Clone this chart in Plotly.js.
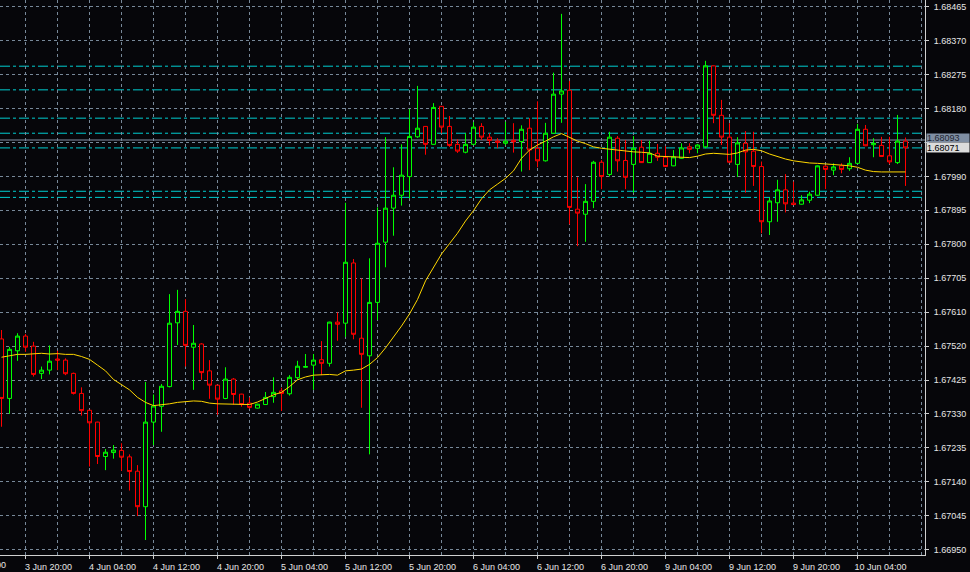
<!DOCTYPE html>
<html>
<head>
<meta charset="utf-8">
<script src="https://cdn.plot.ly/plotly-3.0.1.min.js"></script>
<style>
  html, body { margin: 0; padding: 0; background: #06060a; }
  #chart { width: 970px; height: 572px; }
</style>
</head>
<body>
<div id="chart"></div>
<script>
// ---- Data: hourly candles (3 Jun 17:00 .. 10 Jun 10:00) ----
const open = [
1.67538,1.67372,1.67505,1.67546,1.67518,1.67442,1.67451,1.67482,1.67479,1.67442,
1.67386,1.67339,1.67306,1.67210,1.67221,1.67227,1.67209,1.67169,1.67070,1.67306,
1.67350,1.67405,1.67583,1.67615,1.67515,1.67524,1.67449,1.67409,1.67372,1.67426,
1.67384,1.67359,1.67345,1.67355,1.67377,1.67393,1.67385,1.67430,1.67459,1.67465,
1.67480,1.67470,1.67585,1.67582,1.67750,1.67540,1.67491,1.67640,1.67808,1.67903,
1.67939,1.67991,1.68102,1.68131,1.68081,1.68187,1.68131,1.68081,1.68059,1.68081,
1.68131,1.68101,1.68090,1.68084,1.68092,1.68089,1.68126,1.68070,1.68035,1.68112,
1.68221,1.68232,1.67900,1.67886,1.67922,1.68031,1.67997,1.68098,1.68036,1.68025,
1.68073,1.68030,1.68056,1.68045,1.68021,1.68042,1.68074,1.68070,1.68074,1.68300,
1.68162,1.68101,1.68025,1.68084,1.68062,1.68019,1.67865,1.67918,1.67954,1.67917,
1.67914,1.67925,1.67939,1.68020,1.68009,1.68021,1.68013,1.68028,1.68123,1.68080,
1.68078,1.68049,1.68030,1.68090];
const high = [
1.67563,1.67516,1.67554,1.67552,1.67530,1.67461,1.67520,1.67505,1.67484,1.67444,
1.67403,1.67340,1.67307,1.67231,1.67242,1.67247,1.67216,1.67186,1.67418,1.67383,
1.67412,1.67663,1.67675,1.67649,1.67577,1.67526,1.67479,1.67410,1.67459,1.67429,
1.67385,1.67375,1.67357,1.67390,1.67431,1.67402,1.67437,1.67477,1.67496,1.67496,
1.67532,1.67586,1.67612,1.67918,1.67761,1.67707,1.67763,1.67905,1.68101,1.68017,
1.68081,1.68179,1.68244,1.68132,1.68196,1.68188,1.68160,1.68095,1.68112,1.68143,
1.68140,1.68112,1.68098,1.68144,1.68140,1.68134,1.68154,1.68201,1.68141,1.68281,
1.68445,1.68258,1.67989,1.67970,1.68035,1.68037,1.68116,1.68104,1.68093,1.68104,
1.68093,1.68091,1.68082,1.68076,1.68065,1.68084,1.68084,1.68082,1.68314,1.68301,
1.68205,1.68140,1.68101,1.68118,1.68116,1.68033,1.67932,1.67982,1.67998,1.67977,
1.67939,1.67949,1.68022,1.68023,1.68028,1.68028,1.68045,1.68138,1.68135,1.68098,
1.68102,1.68102,1.68163,1.68100];
const low = [
1.67293,1.67329,1.67477,1.67502,1.67433,1.67426,1.67439,1.67451,1.67437,1.67383,
1.67324,1.67182,1.67189,1.67172,1.67204,1.67170,1.67115,1.67044,1.66977,1.67242,
1.67279,1.67403,1.67521,1.67461,1.67396,1.67424,1.67371,1.67326,1.67370,1.67355,
1.67349,1.67343,1.67344,1.67355,1.67360,1.67337,1.67380,1.67424,1.67458,1.67396,
1.67437,1.67461,1.67533,1.67544,1.67537,1.67346,1.67216,1.67591,1.67738,1.67826,
1.67910,1.67930,1.68099,1.68052,1.68080,1.68112,1.68074,1.68057,1.68056,1.68080,
1.68093,1.68078,1.68070,1.68078,1.68058,1.68005,1.68009,1.68017,1.68033,1.68110,
1.68141,1.67858,1.67797,1.67809,1.67903,1.67956,1.67991,1.68005,1.67956,1.67946,
1.68029,1.68029,1.68035,1.68018,1.68020,1.68041,1.68056,1.68056,1.68070,1.68140,
1.68079,1.68030,1.67990,1.67946,1.67965,1.67833,1.67828,1.67865,1.67891,1.67912,
1.67913,1.67917,1.67937,1.67956,1.67995,1.68000,1.68007,1.68027,1.68076,1.68045,
1.68046,1.68026,1.68026,1.67965];
const close = [
1.67372,1.67509,1.67546,1.67515,1.67439,1.67451,1.67476,1.67479,1.67441,1.67386,
1.67338,1.67304,1.67210,1.67222,1.67228,1.67208,1.67168,1.67070,1.67306,1.67351,
1.67406,1.67582,1.67615,1.67520,1.67526,1.67444,1.67409,1.67370,1.67426,1.67383,
1.67355,1.67347,1.67356,1.67375,1.67389,1.67386,1.67431,1.67462,1.67461,1.67479,
1.67470,1.67585,1.67579,1.67752,1.67551,1.67495,1.67640,1.67805,1.67903,1.67939,
1.67995,1.68103,1.68126,1.68081,1.68184,1.68129,1.68078,1.68062,1.68081,1.68129,
1.68101,1.68092,1.68087,1.68090,1.68088,1.68123,1.68065,1.68035,1.68112,1.68221,
1.68230,1.67905,1.67889,1.67922,1.68031,1.67991,1.68101,1.68035,1.67989,1.68070,
1.68030,1.68056,1.68045,1.68019,1.68046,1.68071,1.68067,1.68079,1.68300,1.68162,
1.68101,1.68031,1.68085,1.68060,1.68019,1.67865,1.67923,1.67954,1.67915,1.67913,
1.67926,1.67942,1.68021,1.68011,1.68018,1.68011,1.68028,1.68123,1.68077,1.68084,
1.68047,1.68032,1.68090,1.68071];
// moving average (yellow line), one value per candle
const ma = [
1.67487,1.67491,1.67495,1.67495,1.67497,1.67498,1.67496,1.67497,1.67495,1.67495,
1.67489,1.67481,1.67465,1.67449,1.67425,1.67410,1.67396,1.67375,1.67361,1.67352,
1.67354,1.67357,1.67361,1.67364,1.67365,1.67364,1.67359,1.67357,1.67357,1.67356,
1.67355,1.67355,1.67362,1.67372,1.67382,1.67389,1.67405,1.67424,1.67432,1.67437,
1.67439,1.67439,1.67437,1.67449,1.67451,1.67454,1.67467,1.67486,1.67513,1.67542,
1.67574,1.67608,1.67648,1.67700,1.67737,1.67775,1.67804,1.67833,1.67867,1.67896,
1.67929,1.67954,1.67970,1.67986,1.68007,1.68042,1.68065,1.68079,1.68090,1.68102,
1.68111,1.68100,1.68090,1.68083,1.68074,1.68070,1.68067,1.68065,1.68063,1.68060,
1.68059,1.68057,1.68048,1.68047,1.68048,1.68045,1.68044,1.68048,1.68054,1.68056,
1.68054,1.68053,1.68057,1.68065,1.68067,1.68063,1.68054,1.68046,1.68040,1.68035,
1.68031,1.68029,1.68028,1.68027,1.68026,1.68023,1.68021,1.68017,1.68009,1.68005,
1.68004,1.68004,1.68004,1.68004];

// time axis labels (bar index of each label) and day starts (period separators)
const xTickIdx = [3,11,19,27,35,43,51,59,67,75,83,91,99,107];
const xTickLabels = ['3 Jun 20:00','4 Jun 04:00','4 Jun 12:00','4 Jun 20:00','5 Jun 04:00',
  '5 Jun 12:00','5 Jun 20:00','6 Jun 04:00','6 Jun 12:00','6 Jun 20:00','9 Jun 04:00',
  '9 Jun 12:00','9 Jun 20:00','10 Jun 04:00'];
const hiddenFirstLabel = '3 Jun 12:00';
const dayStartIdx = [7,31,55,79,103];

// price scale
const yTickVals = [1.66950,1.670447,1.671394,1.672341,1.673288,1.674234,1.675181,1.676128,
  1.677075,1.678022,1.678969,1.679916,1.680863,1.681809,1.682756,1.683703,1.68465];
const yTickText = ['1.66950','1.67045','1.67140','1.67235','1.67330','1.67425','1.67520',
  '1.67610','1.67705','1.67800','1.67895','1.67990','','1.68180','1.68275','1.68370','1.68465'];

// horizontal levels, ask and bid
const levels = [1.68299,1.68233,1.68154,1.68112,1.68071,1.67950,1.67933];
const askPrice = 1.68093;
const bidPrice = 1.68071;

// ---- Build chart ----
const xIdx = open.map((_, i) => i);
const gridX = [];
for (let g = 3; g <= 115; g += 4) gridX.push(g);

const BG = '#06060a';
const GRID = '#778899';
const FG = '#e6e6e6';
const FONT = 'Liberation Sans, Arial, sans-serif';

const candles = {
  type: 'candlestick',
  x: xIdx, open: open, high: high, low: low, close: close,
  increasing: { line: { color: '#00ff00', width: 1 }, fillcolor: BG },
  decreasing: { line: { color: '#ff0000', width: 1 }, fillcolor: BG },
  whiskerwidth: 0,
  hoverinfo: 'none',
  showlegend: false
};
const maLine = {
  type: 'scatter', mode: 'lines',
  x: xIdx, y: ma,
  line: { color: '#ffd700', width: 1 },
  hoverinfo: 'none', showlegend: false
};

const shapes = [];
levels.forEach(v => shapes.push({
  type: 'line', xref: 'paper', x0: 0, x1: 1, yref: 'y', y0: v, y1: v,
  line: { color: '#00ced1', width: 1, dash: '10px,3px,3px,3px' }, layer: 'between'
}));
shapes.push({
  type: 'line', xref: 'paper', x0: 0, x1: 1, yref: 'y', y0: askPrice, y1: askPrice,
  line: { color: '#8593a8', width: 1 }, layer: 'between'
});
dayStartIdx.forEach(d => shapes.push({
  type: 'line', xref: 'x', x0: d, x1: d, yref: 'paper', y0: 0, y1: 1,
  line: { color: '#dcdcdc', width: 1, dash: '3px,3px' }, layer: 'between'
}));

const annotations = [
  { xref: 'paper', x: 1, xanchor: 'left', xshift: 1, yref: 'y', y: askPrice, yshift: 2.5,
    text: askPrice.toFixed(5), showarrow: false, bgcolor: '#7f8ea3', width: 42, height: 8,
    align: 'left', borderpad: 0, font: { family: FONT, size: 9, color: '#1e2430' } },
  { xref: 'paper', x: 1, xanchor: 'left', xshift: 1, yref: 'y', y: bidPrice, yshift: 0.5,
    text: bidPrice.toFixed(5), showarrow: false, bgcolor: '#dcdcdc', width: 42, height: 9,
    align: 'left', borderpad: 0, font: { family: FONT, size: 9, color: '#000000' } },
  { xref: 'paper', x: 0, xanchor: 'right', xshift: 8, yref: 'paper', y: 0, yanchor: 'top', yshift: -3,
    text: hiddenFirstLabel, showarrow: false, font: { family: FONT, size: 9, color: FG } }
];

const layout = {
  width: 970, height: 572,
  margin: { l: 0, r: 45, t: 0, b: 17, pad: 0 },
  paper_bgcolor: BG, plot_bgcolor: BG,
  font: { family: FONT, size: 9, color: FG },
  showlegend: false,
  dragmode: false,
  boxgap: 0.5, boxgroupgap: 0,
  xaxis: {
    type: 'linear',
    range: [-0.1875, 115.4375],
    rangeslider: { visible: false },
    tickmode: 'array', tickvals: xTickIdx, ticktext: xTickLabels,
    ticks: 'outside', ticklen: 3, tickcolor: '#d0d0d0', tickwidth: 1,
    ticklabelshift: 23,
    tickfont: { family: FONT, size: 9, color: FG },
    showgrid: false,
    minor: { tickmode: 'array', tickvals: gridX, showgrid: true, gridcolor: GRID,
             griddash: '3px,3px', gridwidth: 1, ticks: '' },
    showline: true, linecolor: '#d0d0d0', linewidth: 1,
    zeroline: false, fixedrange: true
  },
  yaxis: {
    side: 'right',
    range: [1.669352, 1.684837],
    tickmode: 'array', tickvals: yTickVals, ticktext: yTickText,
    ticks: 'outside', ticklen: 3, tickcolor: '#d0d0d0', tickwidth: 1,
    ticklabelstandoff: 3,
    tickfont: { family: FONT, size: 9, color: FG },
    showgrid: true, gridcolor: GRID, griddash: '3px,3px', gridwidth: 1,
    showline: true, linecolor: '#d0d0d0', linewidth: 1,
    zeroline: false, fixedrange: true
  },
  shapes: shapes,
  annotations: annotations
};

Plotly.newPlot('chart', [candles, maLine], layout, { displayModeBar: false, staticPlot: true });
</script>
</body>
</html>
